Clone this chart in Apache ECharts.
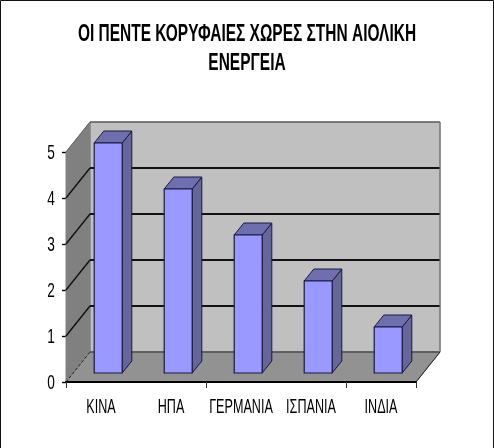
<!DOCTYPE html>
<html><head><meta charset="utf-8">
<style>html,body{margin:0;padding:0;background:#fff}#c{width:494px;height:448px}</style>
<script src="https://cdn.jsdelivr.net/npm/echarts@6/dist/echarts.min.js"></script>
</head><body><div id="c"></div>
<script>
const titleLines = ['ΟΙ ΠΕΝΤΕ ΚΟΡΥΦΑΙΕΣ ΧΩΡΕΣ ΣΤΗΝ ΑΙΟΛΙΚΗ','ΕΝΕΡΓΕΙΑ'];
const categories = ['ΚΙΝΑ','ΗΠΑ','ΓΕΡΜΑΝΙΑ','ΙΣΠΑΝΙΑ','ΙΝΔΙΑ'];
const values = [5,4,3,2,1];
const yTicks = [0,1,2,3,4,5];

const DX = 24, DY = -30;            // full depth of the 3D box, pixels
const FRONT = 0.3, BACK = 0.7;      // bars occupy this depth slice
const font = '"Liberation Sans",Arial,sans-serif';
const chart = echarts.init(document.getElementById('c'), null, {renderer:'canvas'});

function poly(points, fill, stroke, lw){
  return {type:'polygon', shape:{points}, style:{fill, stroke:stroke||'none', lineWidth:lw||0}};
}
function seg(a, b, stroke, lw, dash){
  return {type:'line', shape:{x1:a[0],y1:a[1],x2:b[0],y2:b[1]}, style:{stroke, lineWidth:lw, lineDash:dash||null}};
}
function narrowText(text, x, y, size, scaleX, weight){
  return {type:'text', x, y, scaleX, silent:true,
    style:{text, x:0, y:0, fontFamily:font, fontSize:size, fontWeight:weight||'normal', fill:'#000',
      align:'center', verticalAlign:'middle'}};
}
function renderBox(params, api){
  const n = categories.length;
  const bw = api.size([1,0])[0];
  const first = api.coord([0,0]);
  const L = first[0]-bw/2, R = L+bw*n, B = first[1];
  const T = api.coord([0,5])[1];
  const ch = [];
  ch.push(poly([[L+DX,T+DY],[R+DX,T+DY],[R+DX,B+DY],[L+DX,B+DY]],'#c0c0c0','#808080',1));
  ch.push(poly([[L,T],[L+DX,T+DY],[L+DX,B+DY],[L,B]],'#808080','#808080',1));
  ch.push(poly([[L,B],[R,B],[R+DX,B+DY],[L+DX,B+DY]],'#929292','#808080',1));
  yTicks.forEach(v=>{
    const y = api.coord([0,v])[1];
    if(v===0){
      ch.push(seg([L,y],[L+DX,y+DY],'#222',1,[3,2]));
      ch.push(seg([L+DX,y+DY],[R+DX,y+DY],'#333',1));
    }else if(v===5){
      ch.push(seg([L,y],[L+DX,y+DY],'#666',1));
      ch.push(seg([L+DX,y+DY],[R+DX,y+DY],'#444',1.2));
    }else{
      ch.push(seg([L,y],[L+DX,y+DY],'#111',1.4));
      ch.push(seg([L+DX,y+DY],[R+DX,y+DY],'#111',1.8));
    }
  });
  ch.push(seg([R,B],[R+DX,B+DY],'#222',1));
  ch.push(seg([R+DX,T+DY],[R+DX,B+DY],'#777',1.2));
  return {type:'group', children:ch, silent:true};
}
function renderBar(params, api){
  const i = api.value(0), v = api.value(1);
  const bw = api.size([1,0])[0];
  const c = api.coord([i,0]), t = api.coord([i,v]);
  const w = bw*0.4;
  const fx = c[0]-w/2+DX*FRONT;
  const fb = c[1]+DY*FRONT, ft = t[1]+DY*FRONT;
  const dx = DX*(BACK-FRONT), dy = DY*(BACK-FRONT);
  const s = '#1a1a40';
  return {type:'group', children:[
    poly([[fx+w,ft],[fx+w+dx,ft+dy],[fx+w+dx,fb+dy],[fx+w,fb]],'#666699',s,1),
    poly([[fx,ft],[fx+dx,ft+dy],[fx+w+dx,ft+dy],[fx+w,ft]],'#6f6fb0',s,1),
    poly([[fx,ft],[fx+w,ft],[fx+w,fb],[fx,fb]],'#9999ff',s,1.2)
  ]};
}
function renderXLabel(params, api){
  const c = api.coord([api.value(0),0]);
  return narrowText(categories[api.value(0)], c[0], c[1]+25, 21, 0.6);
}
function renderYLabel(params, api){
  const v = api.value(1), c = api.coord([0,v]);
  return narrowText(String(v), 51, c[1]+1, 21, 0.65);
}
chart.setOption({
  animation:false,
  backgroundColor:'#fff',
  graphic:[
    {type:'polyline',shape:{points:[[0.5,448],[0.5,0.5],[493.5,0.5],[493.5,448]]},
      style:{fill:'none',stroke:'#111',lineWidth:1},silent:true},
    {type:'text',x:247,y:34,scaleX:0.645,silent:true,style:{text:titleLines[0],fontFamily:font,fontSize:24,
      fontWeight:'bold',fill:'#000',align:'center',verticalAlign:'middle'}},
    {type:'text',x:247,y:63,scaleX:0.645,silent:true,style:{text:titleLines[1],fontFamily:font,fontSize:24,
      fontWeight:'bold',fill:'#000',align:'center',verticalAlign:'middle'}}
  ],
  grid:{left:66,top:152,width:350,height:230,containLabel:false},
  xAxis:{type:'category',data:categories,
    axisLine:{show:true,lineStyle:{color:'#000',width:2}},
    axisTick:{show:true,length:6,alignWithLabel:false,lineStyle:{color:'#333',width:1}},
    axisLabel:{show:false},z:5},
  yAxis:{type:'value',min:0,max:5,interval:1,
    axisLine:{show:false},
    axisTick:{show:true,length:4,lineStyle:{color:'#000',width:1.4}},
    axisLabel:{show:false},
    splitLine:{show:false}},
  series:[
    {type:'custom',name:'box',z:1,silent:true,renderItem:renderBox,data:[[0,0]],encode:{x:0,y:1},clip:false},
    {type:'custom',name:'bars',z:2,renderItem:renderBar,
      data:values.map((v,i)=>[i,v]),encode:{x:0,y:1},clip:false},
    {type:'custom',name:'xLabels',z:3,silent:true,renderItem:renderXLabel,
      data:categories.map((c,i)=>[i,0]),encode:{x:0,y:1},clip:false},
    {type:'custom',name:'yLabels',z:3,silent:true,renderItem:renderYLabel,
      data:yTicks.map(v=>[0,v]),encode:{x:0,y:1},clip:false}
  ]
});
</script></body></html>
